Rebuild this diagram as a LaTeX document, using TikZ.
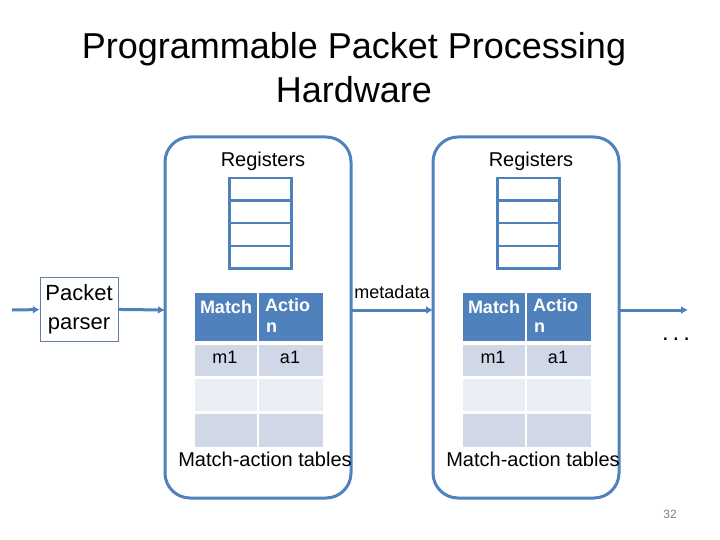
\documentclass[tikz,border=0pt]{standalone}
\usepackage{fontspec}
\setmainfont{Liberation Sans}
\usetikzlibrary{positioning}
\usetikzlibrary{arrows.meta}
\definecolor{stageblue}{RGB}{79,129,189}
\definecolor{rowdark}{RGB}{208,216,232}
\definecolor{rowlight}{RGB}{233,237,244}
\tikzset{
  stage/.style={draw=stageblue, line width=3pt, rounded corners=25pt},
  reg/.style={draw=stageblue, line width=2.5pt, minimum width=62pt, minimum height=22.5pt, inner sep=0pt},
  cell/.style={minimum width=62pt, inner sep=0pt, anchor=north west},
  txt/.style={font=\fontsize{18}{21}\selectfont},
  head/.style={text=white, font=\bfseries\fontsize{18}{21}\selectfont},
  flow/.style={draw=stageblue, line width=3pt, -{Latex[length=7pt,width=8pt]}},
}
\begin{document}
\begin{tikzpicture}[x=1pt, y=-1pt]
        \useasboundingbox (0,0) rectangle (720,540);

        % Title
        \node[font=\fontsize{36}{44}\selectfont, align=center] (title) at (354,68) {Programmable Packet Processing\\Hardware};

        % Parser
        \node[draw=stageblue!60!gray, fill=white, minimum width=78pt, minimum height=64pt, inner sep=0pt,
              align=center, font=\fontsize{22}{29}\selectfont] (parser) at (79,309) {Packet\\parser};
        \coordinate (in) at (12,310);

        % Stages
        \foreach \s/\x in {1/165, 2/433} {
            \draw[stage] (\x,137) rectangle ++(186,361);
            \coordinate (s\s w) at (\x,310);
            \coordinate (s\s e) at (\x+186,310);
            \node[font=\fontsize{20}{20}\selectfont] (regs\s) at (\x+98,161) {Registers};
            \foreach \r in {0,1,2,3}
                \node[reg, anchor=north west] (r\s\r) at (\x+63,177+22.5*\r) {};
            % Table
            \node[cell, fill=stageblue, minimum height=48pt] (mh\s) at (\x+30,293) {};
            \node[cell, fill=stageblue, minimum height=48pt, minimum width=64pt] (ah\s) at (\x+94,293) {};
            \node[head] at (\x+61,307) {Match};
            \node[head, align=left, anchor=north west, inner sep=0pt] at (\x+100,298) {Actio\\\hspace*{1pt}n};
            \node[cell, fill=rowdark, minimum height=31pt] (m\s) at (\x+30,345) {};
            \node[cell, fill=rowdark, minimum height=31pt, minimum width=64pt] (a\s) at (\x+94,345) {};
            \node[txt] at (\x+60,357) {m1};
            \node[txt] at (\x+125,357) {a1};
            \node[cell, fill=rowlight, minimum height=32pt] at (\x+30,379) {};
            \node[cell, fill=rowlight, minimum height=32pt, minimum width=64pt] at (\x+94,379) {};
            \node[cell, fill=rowdark, minimum height=33pt] at (\x+30,414) {};
            \node[cell, fill=rowdark, minimum height=33pt, minimum width=64pt] at (\x+94,414) {};
            \node[font=\fontsize{20}{20}\selectfont] (mat\s) at (\x+100,459) {Match-action tables};
        }

        % Connectors
        \coordinate (out) at (688,310);
        \draw[flow] (in) -- (parser);
        \draw[flow] (parser) -- (s1w);
        \draw[flow] (s1e) -- node[txt, above, yshift=6pt] {metadata} (s2w);
        \draw[flow] (s2e) -- (out);

        \node[font=\fontsize{24}{24}\selectfont] (dots) at (676,339) {.\,.\,.};
        \node[text=gray, font=\fontsize{12}{12}\selectfont] (page) at (670,514) {32};
\end{tikzpicture}
\end{document}
